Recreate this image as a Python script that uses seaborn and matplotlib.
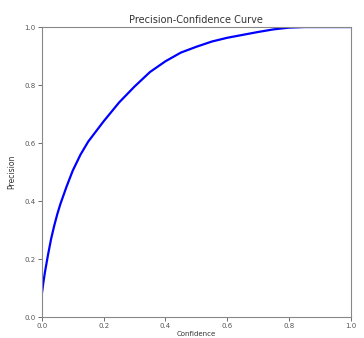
import matplotlib
matplotlib.use("Agg")
import matplotlib.pyplot as plt
import seaborn as sns
import pandas as pd

confidence = [0.0, 0.005, 0.01, 0.02, 0.03, 0.04, 0.05, 0.06, 0.08, 0.1, 0.125, 0.15, 0.175, 0.2,
              0.25, 0.3, 0.35, 0.4, 0.45, 0.5, 0.55, 0.6, 0.65, 0.7, 0.75, 0.8, 0.85, 0.9, 0.95, 1.0]
precision = [0.08, 0.12, 0.155, 0.215, 0.27, 0.315, 0.355, 0.39, 0.45, 0.505, 0.56, 0.605, 0.64, 0.675,
             0.74, 0.795, 0.845, 0.882, 0.912, 0.932, 0.95, 0.963, 0.973, 0.983, 0.992, 0.998, 1.0, 1.0, 1.0, 1.0]
ticks = [0.0, 0.2, 0.4, 0.6, 0.8, 1.0]

df = pd.DataFrame({"Confidence": confidence, "Precision": precision})

sns.set_style("white")
plt.rcParams['font.family'] = ['DejaVu Sans']
fig = plt.figure(figsize=(3.64, 3.38), dpi=100)
ax = fig.add_axes([0.115, 0.062, 0.849, 0.858])
sns.lineplot(data=df, x="Confidence", y="Precision", color="blue", linewidth=1.6, ax=ax)
ax.set_xlim(0, 1)
ax.set_ylim(0, 1)
ax.set_xticks(ticks)
ax.set_yticks(ticks)
ax.set_xticklabels([f"{t:.1f}" for t in ticks])
ax.set_yticklabels([f"{t:.1f}" for t in ticks])
ax.tick_params(axis="both", labelsize=5, length=3, width=0.6, colors="#555555", direction="out",
               bottom=True, left=True, pad=1.5)
for s in ax.spines.values():
    s.set_color("#888888")
    s.set_linewidth(0.8)
ax.set_title("Precision-Confidence Curve", fontsize=7, color="#333333", pad=3)
ax.set_xlabel("Confidence", fontsize=5, color="#333333", labelpad=1)
ax.set_ylabel("Precision", fontsize=5.5, color="#333333", labelpad=6)
fig.savefig("out.png", dpi=100)
